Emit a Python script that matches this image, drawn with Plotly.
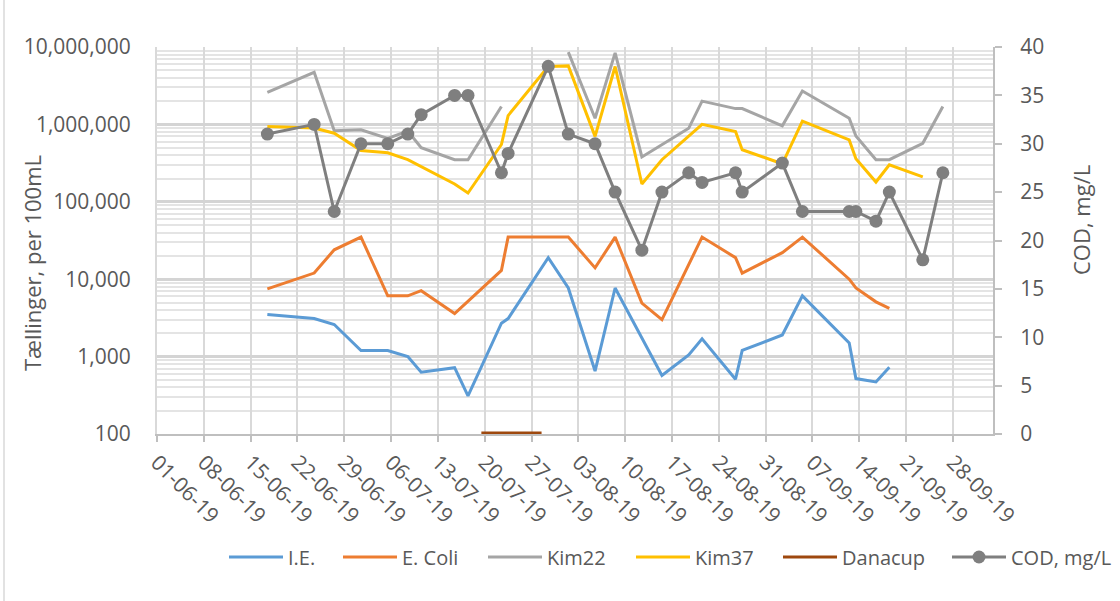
import pandas as pd
import plotly.graph_objects as go

# ---- data -------------------------------------------------------------
ie_dates = ["2019-06-17", "2019-06-24", "2019-06-27", "2019-07-01", "2019-07-05",
            "2019-07-08", "2019-07-10", "2019-07-15", "2019-07-17", "2019-07-22",
            "2019-07-23", "2019-07-29", "2019-08-01", "2019-08-05", "2019-08-08",
            "2019-08-15", "2019-08-19", "2019-08-21", "2019-08-26", "2019-08-27",
            "2019-09-02", "2019-09-05", "2019-09-12", "2019-09-13", "2019-09-16",
            "2019-09-18"]
ie_values = [3500, 3100, 2600, 1200, 1200, 1000, 630, 720, 310, 2700,
             3100, 19000, 7700, 650, 7700, 570, 1050, 1700, 510, 1200,
             1900, 6100, 1500, 520, 470, 730]

ecoli_dates = ["2019-06-17", "2019-06-24", "2019-06-27", "2019-07-01", "2019-07-05",
               "2019-07-08", "2019-07-10", "2019-07-15", "2019-07-22", "2019-07-23",
               "2019-07-29", "2019-08-01", "2019-08-05", "2019-08-08", "2019-08-12",
               "2019-08-15", "2019-08-21", "2019-08-26", "2019-08-27", "2019-09-02",
               "2019-09-05", "2019-09-12", "2019-09-13", "2019-09-16", "2019-09-18"]
ecoli_values = [7500, 12000, 24000, 35000, 6100, 6100, 7100, 3600, 13000, 35000,
                35000, 35000, 14000, 35000, 4900, 3000, 35000, 19000, 12000, 22000,
                35000, 10000, 7700, 5100, 4200]

kim22_dates = ["2019-06-17", "2019-06-24", "2019-06-27", "2019-07-01", "2019-07-05",
               "2019-07-08", "2019-07-10", "2019-07-15", "2019-07-17", "2019-07-22",
               None,
               "2019-08-01", "2019-08-05", "2019-08-08", "2019-08-12", "2019-08-19",
               "2019-08-21", "2019-08-26", "2019-08-27", "2019-09-02", "2019-09-05",
               "2019-09-12", "2019-09-13", "2019-09-16", "2019-09-18", "2019-09-23",
               "2019-09-26"]
kim22_values = [2600000, 4700000, 830000, 850000, 660000, 820000, 500000, 350000,
                350000, 1700000, None,
                8600000, 1200000, 8400000, 380000, 890000, 2000000, 1600000,
                1600000, 960000, 2700000, 1200000, 710000, 350000, 350000,
                570000, 1700000]

kim37_dates = ["2019-06-17", "2019-06-24", "2019-06-27", "2019-07-01", "2019-07-05",
               "2019-07-08", "2019-07-15", "2019-07-17", "2019-07-22", "2019-07-23",
               "2019-07-29", "2019-08-01", "2019-08-05", "2019-08-08", "2019-08-12",
               "2019-08-15", "2019-08-21", "2019-08-26", "2019-08-27", "2019-09-02",
               "2019-09-05", "2019-09-12", "2019-09-13", "2019-09-16", "2019-09-18",
               "2019-09-23"]
kim37_values = [940000, 900000, 770000, 460000, 430000, 350000, 170000, 130000,
                550000, 1300000, 5600000, 5700000, 700000, 5600000, 170000, 350000,
                1000000, 810000, 470000, 310000, 1100000, 630000, 360000, 180000,
                300000, 210000]

danacup_dates = ["2019-07-19", "2019-07-28"]
danacup_values = [0, 0]

cod_dates = ["2019-06-17", "2019-06-24", "2019-06-27", "2019-07-01", "2019-07-05",
             "2019-07-08", "2019-07-10", "2019-07-15", "2019-07-17", "2019-07-22",
             "2019-07-23", "2019-07-29", "2019-08-01", "2019-08-05", "2019-08-08",
             "2019-08-12", "2019-08-15", "2019-08-19", "2019-08-21", "2019-08-26",
             "2019-08-27", "2019-09-02", "2019-09-05", "2019-09-12", "2019-09-13",
             "2019-09-16", "2019-09-18", "2019-09-23", "2019-09-26"]
cod_values = [31, 32, 23, 30, 30, 31, 33, 35, 35, 27, 29, 38, 31, 30, 25, 19, 25,
              27, 26, 27, 25, 28, 23, 23, 23, 22, 25, 18, 27]

count_ticks = [100, 1000, 10000, 100000, 1000000, 10000000]
cod_ticks = [0, 5, 10, 15, 20, 25, 30, 35, 40]

# ---- style ------------------------------------------------------------
TEXT = "#595959"
FONT = "Open Sans, Noto Sans, sans-serif"
W, H = 1120, 601
ML, MR, MT, MB = 157, 127, 47, 167
PW, PH = W - ML - MR, H - MT - MB

colors = {
    "I.E.": "#5B9BD5",
    "E. Coli": "#ED7D31",
    "Kim22": "#A5A5A5",
    "Kim37": "#FFC000",
    "Danacup": "#9E480E",
    "COD, mg/L": "#7F7F7F",
}


def day_centre(dates):
    """Place each sample in the middle of its calendar day."""
    return [None if d is None else pd.Timestamp(d) + pd.Timedelta(hours=12)
            for d in dates]


def px_x(px):
    return (px - ML) / PW


def px_y(py):
    return (H - MB - py) / PH


minor_vals = [m * 10 ** e for e in range(2, 7) for m in range(2, 10)]

fig = go.Figure()

series = [
    ("I.E.", ie_dates, ie_values),
    ("E. Coli", ecoli_dates, ecoli_values),
    ("Kim22", kim22_dates, kim22_values),
    ("Kim37", kim37_dates, kim37_values),
]
for name, d, v in series:
    fig.add_trace(go.Scatter(
        x=day_centre(d), y=v, name=name, mode="lines",
        line=dict(color=colors[name], width=3), connectgaps=False,
    ))

fig.add_trace(go.Scatter(
    x=day_centre(danacup_dates), y=danacup_values, name="Danacup", mode="lines",
    line=dict(color=colors["Danacup"], width=5), yaxis="y2",
))

fig.add_trace(go.Scatter(
    x=day_centre(cod_dates), y=cod_values, name="COD, mg/L", mode="lines+markers",
    line=dict(color=colors["COD, mg/L"], width=3),
    marker=dict(color=colors["COD, mg/L"], size=13),
    yaxis="y2",
))

# ---- legend row under the date labels ----------------------------------
legend_names = ["I.E.", "E. Coli", "Kim22", "Kim37", "Danacup", "COD, mg/L"]
legend_x = [229, 343, 488, 636, 783, 952]
legend_y = 557
shapes = []
annotations = []
for name, lx in zip(legend_names, legend_x):
    shapes.append(dict(type="line", xref="paper", yref="paper",
                       x0=px_x(lx), x1=px_x(lx + 54),
                       y0=px_y(legend_y), y1=px_y(legend_y),
                       line=dict(color=colors[name], width=3)))
    if name == "COD, mg/L":
        r = 6.5
        shapes.append(dict(type="circle", xref="paper", yref="paper",
                           x0=px_x(lx + 27 - r), x1=px_x(lx + 27 + r),
                           y0=px_y(legend_y + r), y1=px_y(legend_y - r),
                           fillcolor=colors[name], line=dict(width=0)))
    annotations.append(dict(text=name, xref="paper", yref="paper",
                            x=px_x(lx + 57), y=px_y(legend_y),
                            xanchor="left", yanchor="middle", showarrow=False,
                            font=dict(family=FONT, size=20, color=TEXT)))

# axis titles
annotations += [
    dict(text="Tællinger, per 100mL", xref="paper", yref="paper",
         x=px_x(32), y=px_y(263), textangle=-90, showarrow=False,
         xanchor="center", yanchor="middle",
         font=dict(family=FONT, size=22, color=TEXT)),
    dict(text="COD, mg/L", xref="paper", yref="paper",
         x=px_x(1081), y=px_y(220), textangle=-90, showarrow=False,
         xanchor="center", yanchor="middle",
         font=dict(family=FONT, size=22, color=TEXT)),
]

# thin frame edge on the left of the chart area
shapes.append(dict(type="line", xref="paper", yref="paper",
                   x0=px_x(4), x1=px_x(4), y0=px_y(601), y1=px_y(0),
                   line=dict(color="#D9D9D9", width=1.5)))

fig.update_layout(
    width=W, height=H,
    margin=dict(l=ML, r=MR, t=MT, b=MB),
    paper_bgcolor="white", plot_bgcolor="white",
    font=dict(family=FONT, size=21, color=TEXT),
    showlegend=False,
    xaxis=dict(
        type="date",
        range=["2019-06-01", "2019-10-04"],
        tick0="2019-06-01", dtick=7 * 24 * 3600 * 1000,
        tickformat="%d-%m-%y", tickangle=45,
        showgrid=True, gridcolor="#D9D9D9", gridwidth=2,
        showline=True, linecolor="#BFBFBF", linewidth=2,
        ticks="outside", ticklen=6, tickcolor="#BFBFBF", tickwidth=1.5,
        tickfont=dict(family=FONT, size=21, color=TEXT),
        zeroline=False,
    ),
    yaxis=dict(
        type="log", range=[2, 7],
        tickmode="array", tickvals=count_ticks,
        ticktext=[f"{v:,}" for v in count_ticks],
        showgrid=True, gridcolor="#D4D4D4", gridwidth=2.5,
        minor=dict(tickmode="array", tickvals=minor_vals, showgrid=True,
                   gridcolor="#E4E4E4", gridwidth=2, ticks=""),
        showline=True, linecolor="#D9D9D9", linewidth=2,
        ticks="", ticklabelstandoff=20,
        tickfont=dict(family=FONT, size=21, color=TEXT),
        zeroline=False,
    ),
    yaxis2=dict(
        overlaying="y", side="right", range=[0, 40],
        tickmode="array", tickvals=cod_ticks,
        showgrid=False, zeroline=False,
        showline=True, linecolor="#BFBFBF", linewidth=2,
        ticks="outside", ticklen=7, tickcolor="#BFBFBF", tickwidth=1.5,
        ticklabelstandoff=14,
        tickfont=dict(family=FONT, size=21, color=TEXT),
    ),
    shapes=shapes,
    annotations=annotations,
)

fig.write_html("out.html")
